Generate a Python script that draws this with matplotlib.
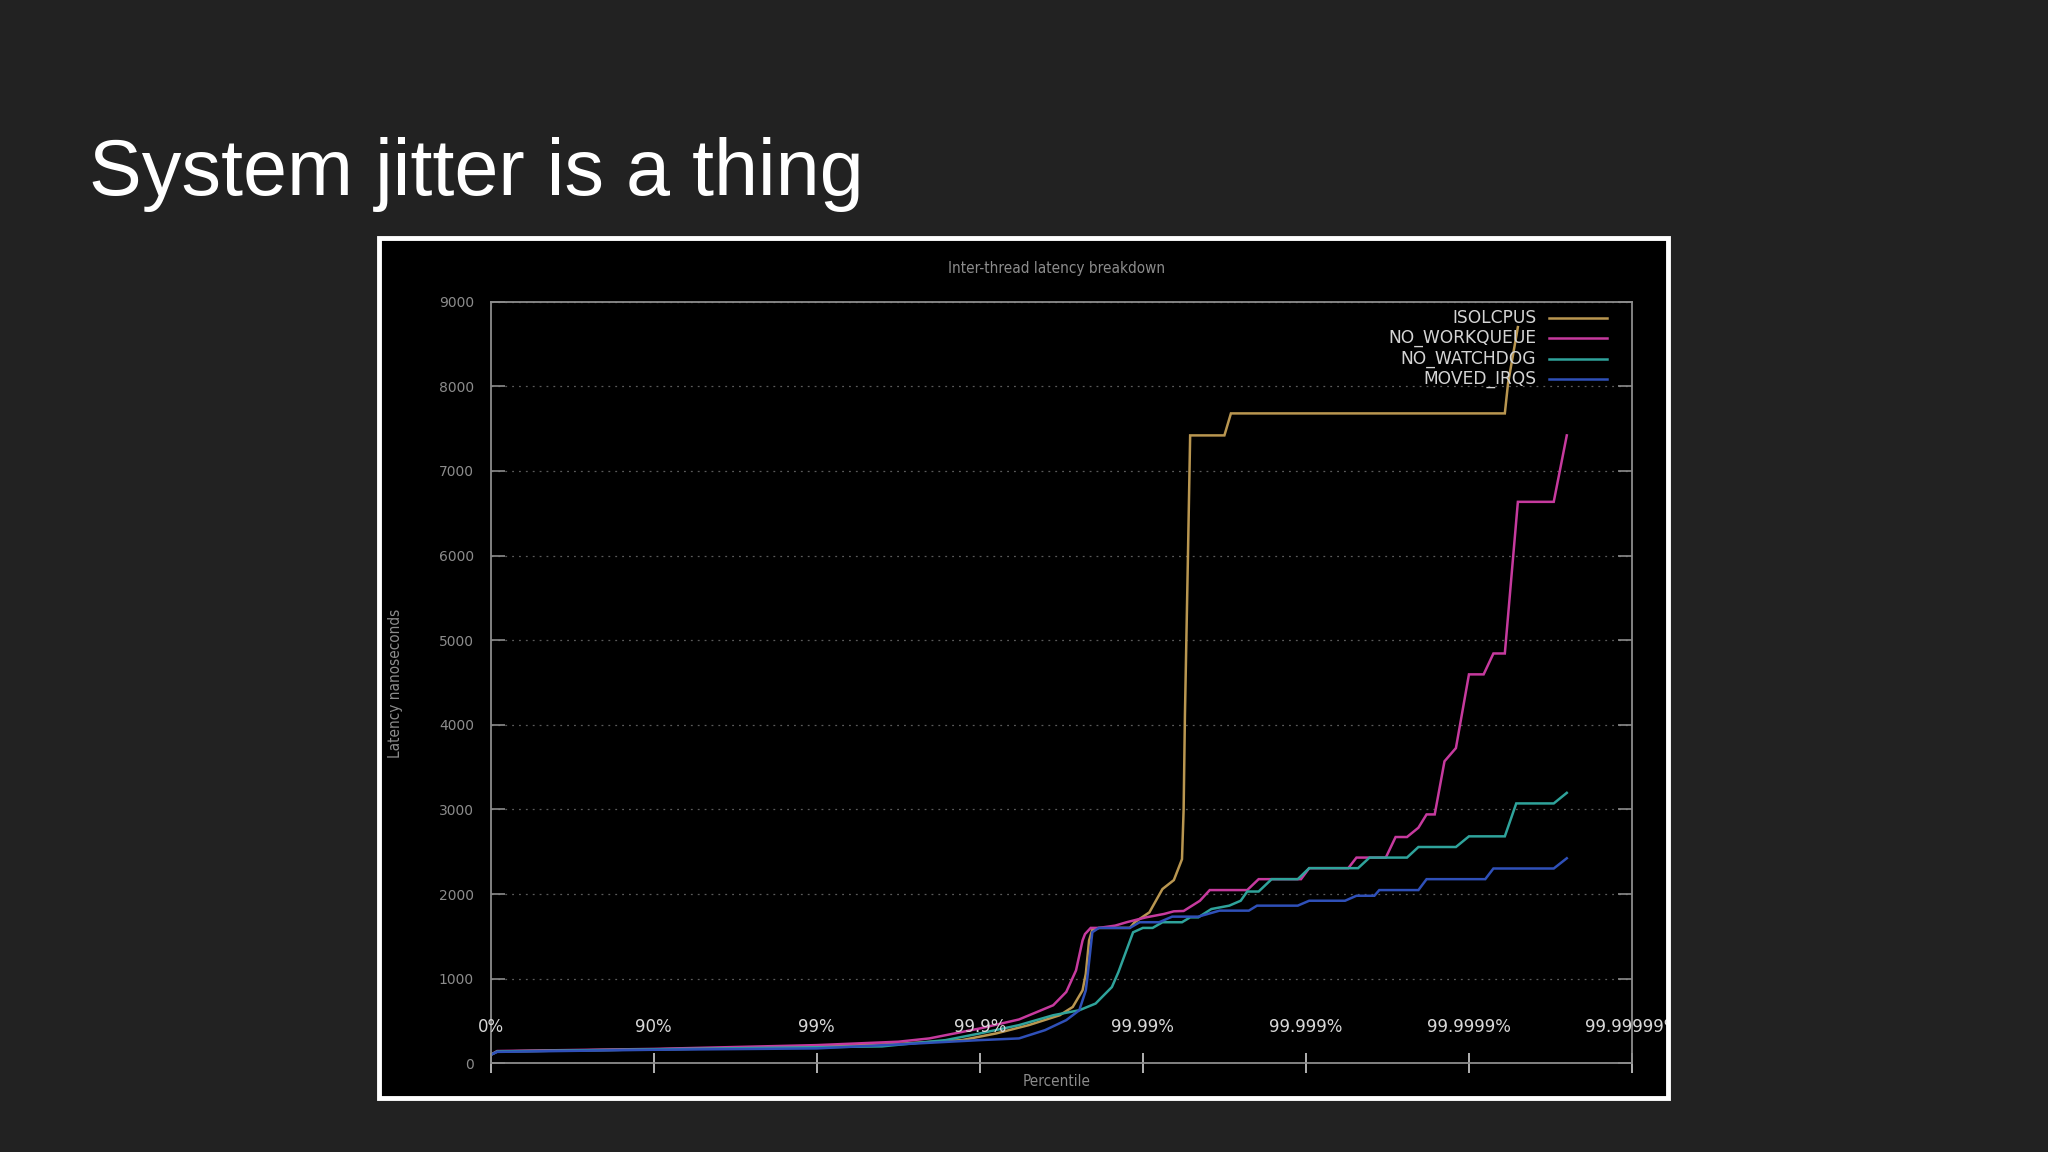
import numpy as np
import matplotlib.pyplot as plt
from matplotlib.patches import Rectangle

# Percentile axis is in "nines": x = -log10(1 - p), so 0%=0, 90%=1, 99%=2 ...
tick_labels = ['0%', '90%', '99%', '99.9%', '99.99%', '99.999%', '99.9999%', '99.99999%']
y_ticks = [0, 1000, 2000, 3000, 4000, 5000, 6000, 7000, 8000, 9000]

series_names = ['ISOLCPUS', 'NO_WORKQUEUE', 'NO_WATCHDOG', 'MOVED_IRQS']
series_colors = ['#b99650', '#c63a9e', '#2fa39b', '#2f50b8']

isolcpus_x = [0, 0.04, 1.0, 2.0, 2.5, 2.89, 3.10, 3.30, 3.49, 3.57, 3.63, 3.65, 3.67, 3.69,
              3.73, 3.92, 3.95, 4.04, 4.12, 4.19, 4.24, 4.25, 4.258, 4.275, 4.29, 4.50,
              4.54, 6.22, 6.24, 6.30]
isolcpus_y = [100, 140, 165, 195, 230, 274, 353, 451, 568, 666, 862, 1059, 1451, 1580,
              1600, 1600, 1667, 1784, 2059, 2165, 2412, 3000, 4118, 5843, 7420, 7420,
              7680, 7680, 8039, 8700]

workqueue_x = [0, 0.04, 1.0, 2.0, 2.5, 2.69, 3.0, 3.24, 3.45, 3.53, 3.59, 3.63, 3.645, 3.68,
               3.73, 3.83, 3.90, 4.02, 4.13, 4.19, 4.25, 4.35, 4.41, 4.64, 4.71, 4.97,
               5.02, 5.26, 5.31, 5.49, 5.55, 5.62, 5.69, 5.74, 5.79, 5.85, 5.92, 6.0,
               6.09, 6.15, 6.22, 6.30, 6.52, 6.60]
workqueue_y = [100, 145, 170, 215, 255, 294, 412, 518, 686, 843, 1098, 1451, 1527, 1600,
               1600, 1627, 1667, 1725, 1765, 1796, 1800, 1921, 2047, 2047, 2176, 2176,
               2306, 2306, 2431, 2431, 2674, 2674, 2784, 2941, 2941, 3569, 3725, 4596,
               4596, 4843, 4843, 6635, 6635, 7420]

watchdog_x = [0, 0.04, 1.0, 2.0, 2.4, 2.79, 3.0, 3.24, 3.45, 3.61, 3.71, 3.81, 3.85, 3.94,
              4.0, 4.06, 4.12, 4.24, 4.29, 4.34, 4.42, 4.53, 4.60, 4.64, 4.71, 4.79,
              4.95, 5.02, 5.32, 5.39, 5.62, 5.69, 5.92, 6.0, 6.22, 6.29, 6.52, 6.60]
watchdog_y = [100, 140, 165, 190, 200, 274, 353, 451, 568, 627, 706, 901, 1078, 1548,
              1600, 1600, 1667, 1667, 1725, 1725, 1823, 1863, 1921, 2030, 2030, 2176,
              2176, 2306, 2306, 2431, 2431, 2556, 2556, 2682, 2682, 3071, 3071, 3196]

irqs_x = [0, 0.04, 1.0, 2.0, 2.54, 3.0, 3.24, 3.40, 3.53, 3.61, 3.65, 3.66, 3.69, 3.73,
          3.92, 3.98, 4.10, 4.18, 4.34, 4.47, 4.65, 4.70, 4.95, 5.02, 5.24, 5.31, 5.42,
          5.45, 5.69, 5.74, 6.10, 6.15, 6.52, 6.60]
irqs_y = [100, 135, 160, 176, 227, 274, 294, 392, 510, 627, 862, 1019, 1549, 1600,
          1600, 1667, 1667, 1733, 1733, 1804, 1804, 1863, 1863, 1921, 1921, 1980, 1980,
          2047, 2047, 2176, 2176, 2302, 2302, 2423]

series_x = [isolcpus_x, workqueue_x, watchdog_x, irqs_x]
series_y = [isolcpus_y, workqueue_y, watchdog_y, irqs_y]

W, H = 2048, 1152
fig = plt.figure(figsize=(W / 100, H / 100), dpi=100)
fig.patch.set_facecolor('#222222')

# black chart panel with white frame
panel = Rectangle((379 / W, 1 - 1098 / H), (1668 - 379) / W, (1098 - 238) / H,
                  transform=fig.transFigure, facecolor='black', edgecolor='none', zorder=-1)
frame = Rectangle((379 / W, 1 - 1098 / H), (1668 - 379) / W, (1098 - 238) / H,
                  transform=fig.transFigure, facecolor='none', edgecolor='white',
                  linewidth=3.5, zorder=5)
fig.patches.extend([panel, frame])

fig.text(89 / W, 1 - 195 / H, 'System jitter is a thing', color='white',
         fontsize=57, family='Liberation Sans', va='baseline', ha='left')

ax = fig.add_axes([490.7 / W, 1 - 1063.3 / H, (1632 - 490.7) / W, (1063.3 - 301.7) / H])
ax.set_facecolor('none')
ax.set_xlim(0, 7)
ax.set_ylim(0, 9000)

for xs, ys, col in zip(series_x, series_y, series_colors):
    ax.plot(xs, ys, color=col, lw=1.8, solid_joinstyle='miter')

for s in ax.spines.values():
    s.set_color('#8c8c8c')
    s.set_linewidth(1.3)

ax.set_yticks(y_ticks)
ax.set_yticklabels([str(v) for v in y_ticks])
ax.tick_params(axis='y', direction='in', left=True, right=True, length=10, width=1.2,
               color='#8c8c8c', labelcolor='#8c8c8c', labelsize=10, pad=12)
ax.set_xticks(range(len(tick_labels)))
ax.set_xticklabels([])
ax.tick_params(axis='x', direction='inout', length=14, width=1.2, color='#cfcfcf')
ax.yaxis.grid(True, linestyle=(0, (1.5, 4)), color='#5a5a5a', linewidth=0.9)
ax.set_axisbelow(True)

# percentile labels sit inside the plot, clipped by the panel frame
for i, lab in enumerate(tick_labels):
    t = ax.text(i, 430, lab, ha='center', va='center', color='#d8d8d8', fontsize=12,
                clip_on=True)
    t.set_clip_path(panel)

# legend: text right-aligned, sample line on the right
for k, (name, col) in enumerate(zip(series_names, series_colors)):
    yy = 0.979 - k * 0.0268
    ax.text(0.916, yy, name, transform=ax.transAxes, ha='right', va='center',
            color='#d4d4d4', fontsize=12.3)
    ax.plot([0.9275, 0.978], [yy, yy], transform=ax.transAxes, color=col, lw=1.8)

fig.text(1056.6 / W, 1 - 269 / H, 'Inter-thread latency breakdown', color='#8c8c8c',
         fontsize=11, fontstretch='condensed', ha='center', va='center')
fig.text(1056.6 / W, 1 - 1081.5 / H, 'Percentile', color='#8c8c8c',
         fontsize=11, fontstretch='condensed', ha='center', va='center')
fig.text(395.7 / W, 1 - 683 / H, 'Latency nanoseconds', color='#8c8c8c', rotation=90,
         fontsize=11, fontstretch='condensed', ha='center', va='center')

fig.savefig('out.png', dpi=100, facecolor=fig.get_facecolor())
